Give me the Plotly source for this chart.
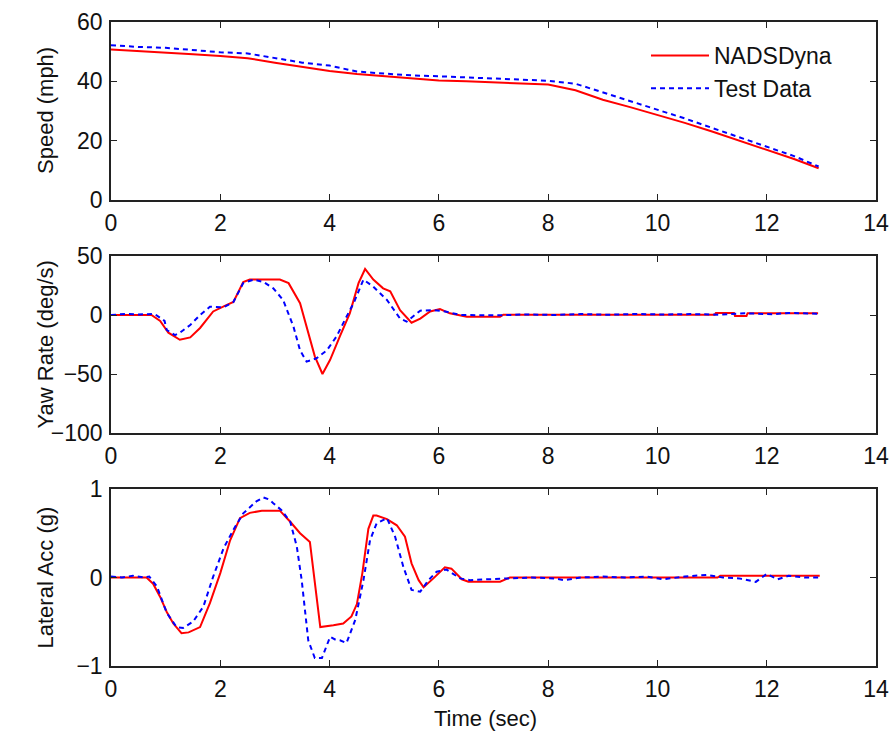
import plotly.graph_objects as go
from plotly.subplots import make_subplots

# ---------------- data ----------------
speed_t = [0, 0.5, 1, 1.5, 2, 2.5, 3, 3.5, 4, 4.5, 5, 5.5, 6, 6.5, 7, 7.5, 8, 8.5,
           9, 9.5, 10, 10.5, 11, 11.5, 12, 12.5, 12.95]
speed_nads = [50.7, 50.2, 49.8, 49.1, 48.5, 47.8, 46.3, 44.8, 43.5, 42.5, 41.8, 41.0,
              40.3, 40.0, 39.6, 39.4, 38.9, 37.0, 33.8, 31.3, 28.7, 26.0, 23.1, 20.0,
              16.9, 13.8, 10.7]
speed_test = [52.2, 51.6, 51.3, 50.6, 49.8, 49.4, 47.8, 46.3, 45.3, 43.3, 42.6, 42.0,
              41.7, 41.3, 41.0, 40.7, 40.2, 39.2, 36.3, 33.5, 30.5, 27.5, 24.3, 21.2,
              18.0, 14.8, 11.3]

yaw_t_nads = [0, 0.74, 0.9, 1.05, 1.26, 1.45, 1.63, 1.87, 2.12, 2.24, 2.42, 2.54, 3.09,
              3.25, 3.46, 3.61, 3.73, 3.87, 4.01, 4.19, 4.37, 4.53, 4.65, 4.80, 4.98,
              5.11, 5.29, 5.50, 5.66, 5.84, 6.02, 6.2, 6.51, 7.12, 7.18, 11.05, 11.07,
              11.4, 11.42, 11.63, 11.65, 12.94]
yaw_nads = [0, 0, -5, -15, -21, -19, -11, 3, 8.5, 11, 28, 30, 30, 27, 10, -15.5, -35,
            -50, -38, -18, 1.4, 27, 39, 30, 22.6, 20, 4, -6.5, -3, 3, 5, 1.4, -1.4,
            -1.4, 0.3, 0.3, 1.8, 1.8, -0.8, -0.8, 1.5, 1.5]

yaw_t_test = [0, 0.3, 0.5, 0.8, 0.98, 1.02, 1.17, 1.26, 1.45, 1.63, 1.81, 2.06, 2.24,
              2.42, 2.61, 2.79, 2.97, 3.15, 3.34, 3.46, 3.58, 3.76, 3.95, 4.13, 4.31,
              4.44, 4.62, 4.80, 5.05, 5.29, 5.41, 5.66, 5.9, 6.14, 6.39, 6.7, 7.1, 7.6,
              8.1, 8.6, 9.1, 9.6, 10.1, 10.6, 11.1, 11.6, 12.1, 12.4, 12.95]
yaw_test = [0, 1, 0.5, 0.8, -5, -12.7, -17, -15, -8.5, 0, 7, 6.5, 11, 27, 30, 28, 22.6,
            12.7, -10, -30, -39.5, -36.7, -30, -18, -1.4, 10, 30, 24, 12.7, -3, -5.6,
            3.7, 4.2, 2.8, 0, -0.3, -0.3, 0.5, 0, 0.8, 0.2, 0.9, 0.4, 0.8, 0.3, 1.5,
            0.6, 1.8, 1.0]

lat_t_nads = [0, 0.65, 0.77, 0.90, 1.02, 1.14, 1.29, 1.42, 1.63, 1.81, 2.0, 2.18, 2.36,
              2.54, 2.76, 3.09, 3.28, 3.46, 3.64, 3.83, 4.07, 4.25, 4.40, 4.50, 4.60,
              4.71, 4.80, 4.86, 5.05, 5.23, 5.38, 5.50, 5.63, 5.72, 5.9, 6.11, 6.23,
              6.42, 6.54, 7.12, 7.3, 11.1, 11.15, 12.97]
lat_nads = [0, 0, -0.07, -0.22, -0.39, -0.52, -0.63, -0.62, -0.56, -0.29, 0.05, 0.42,
            0.67, 0.73, 0.755, 0.755, 0.63, 0.5, 0.40, -0.56, -0.54, -0.52, -0.44,
            -0.30, 0.05, 0.55, 0.70, 0.70, 0.66, 0.59, 0.46, 0.16, -0.03, -0.11, -0.01,
            0.115, 0.10, -0.02, -0.047, -0.047, 0.0, 0.0, 0.02, 0.02]

lat_t_test = [0, 0.2, 0.4, 0.6, 0.7, 0.84, 1.02, 1.2, 1.32, 1.50, 1.69, 1.87, 2.06,
              2.24, 2.42, 2.55, 2.66, 2.79, 2.9, 2.97, 3.12, 3.28, 3.40, 3.49, 3.61,
              3.73, 3.86, 4.01, 4.10, 4.19, 4.31, 4.47, 4.62, 4.74, 4.86, 5.05, 5.20,
              5.35, 5.50, 5.66, 5.81, 5.96, 6.14, 6.39, 6.57, 6.9, 7.3, 7.7, 8.1, 8.3,
              8.6, 9.0, 9.4, 9.8, 10.1, 10.5, 10.9, 11.2, 11.5, 11.8, 12.0, 12.2, 12.4,
              12.7, 12.95]
lat_test = [0.01, 0.0, 0.02, 0.0, 0.01, -0.10, -0.40, -0.56, -0.57, -0.50, -0.33, 0.01,
            0.33, 0.54, 0.725, 0.80, 0.86, 0.905, 0.88, 0.84, 0.76, 0.63, 0.35, -0.03,
            -0.71, -0.91, -0.91, -0.67, -0.70, -0.71, -0.74, -0.48, -0.03, 0.42, 0.61,
            0.67, 0.46, 0.12, -0.14, -0.16, -0.03, 0.066, 0.09, -0.01, -0.03, -0.02,
            -0.01, 0.0, -0.01, -0.03, 0.0, 0.01, 0.0, 0.01, -0.02, 0.01, 0.03, 0.0,
            -0.01, -0.05, 0.04, -0.02, 0.02, 0.0, 0.0]

x_ticks = [0, 2, 4, 6, 8, 10, 12, 14]
y_titles = ["Speed (mph)", "Yaw Rate (deg/s)", "Lateral Acc (g)"]
x_title = "Time (sec)"
series_names = ["NADSDyna", "Test Data"]

# ---------------- figure ----------------
RED = "#ff0000"
BLUE = "#0000ff"
FONT = "Liberation Sans, Arial, sans-serif"
FS = 22
TFS = 23

fig = make_subplots(rows=3, cols=1)

panels = [
    (speed_t, speed_nads, speed_t, speed_test),
    (yaw_t_nads, yaw_nads, yaw_t_test, yaw_test),
    (lat_t_nads, lat_nads, lat_t_test, lat_test),
]
for i, (tn, vn, tt, vt) in enumerate(panels, start=1):
    fig.add_trace(go.Scatter(x=tn, y=vn, mode="lines", name=series_names[0],
                             line=dict(color=RED, width=2), showlegend=(i == 1)),
                  row=i, col=1)
    fig.add_trace(go.Scatter(x=tt, y=vt, mode="lines", name=series_names[1],
                             line=dict(color=BLUE, width=2, dash="5px,4px"),
                             showlegend=(i == 1)),
                  row=i, col=1)

W, H = 892, 742
L, R, T, B = 111, 16, 22, 76
ph = H - T - B
pw = W - L - R
def ypos(px):  # screen pixel -> paper y
    return (H - B - px) / ph
def xpos(px):  # screen pixel -> paper x
    return (px - L) / pw

domains = [(ypos(200), ypos(22)), (ypos(433), ypos(256)), (ypos(666), ypos(489))]
yranges = [([0, 60], [0, 20, 40, 60]), ([-100, 50], [-100, -50, 0, 50]), ([-1, 1], [-1, 0, 1])]

axis_common = dict(showline=True, linecolor="#222222", linewidth=1.5, mirror="ticks",
                   ticks="inside", ticklen=6, tickwidth=1, tickcolor="#222222",
                   showgrid=False, zeroline=False, automargin=False,
                   tickfont=dict(family=FONT, size=TFS, color="#111111"))
for i in range(3):
    xa = "xaxis" if i == 0 else f"xaxis{i+1}"
    ya = "yaxis" if i == 0 else f"yaxis{i+1}"
    fig.layout[xa].update(range=[0, 14], tickvals=x_ticks, ticklabelstandoff=2, **axis_common)
    fig.layout[ya].update(range=yranges[i][0], tickvals=yranges[i][1],
                          domain=list(domains[i]), ticklabelstandoff=2, **axis_common)

annotations = []
for i, t in enumerate(y_titles):
    yc = (domains[i][0] + domains[i][1]) / 2
    annotations.append(dict(text=t, xref="paper", yref="paper", x=xpos(45),
                            y=yc, textangle=-90, showarrow=False, xanchor="center",
                            yanchor="middle", font=dict(family=FONT, size=FS, color="#111111")))
annotations.append(dict(text=x_title, xref="paper", yref="paper", x=xpos(485),
                        y=ypos(718), showarrow=False, xanchor="center", yanchor="middle",
                        font=dict(family=FONT, size=FS, color="#111111")))

fig.update_layout(
    width=W, height=H,
    margin=dict(l=L, r=R, t=T, b=B, autoexpand=False),
    paper_bgcolor="white", plot_bgcolor="white",
    annotations=annotations,
    legend=dict(x=xpos(646), y=ypos(34), xanchor="left", yanchor="top",
                bgcolor="rgba(255,255,255,0)", borderwidth=0,
                font=dict(family=FONT, size=TFS, color="#111111"),
                itemwidth=58, tracegroupgap=0),
    showlegend=True,
)

# remove the default 8px page margin so the figure fills the 892x742 window exactly
fig.write_html("out.html", config={"displayModeBar": False},
               post_script="document.body.style.margin='0';")
